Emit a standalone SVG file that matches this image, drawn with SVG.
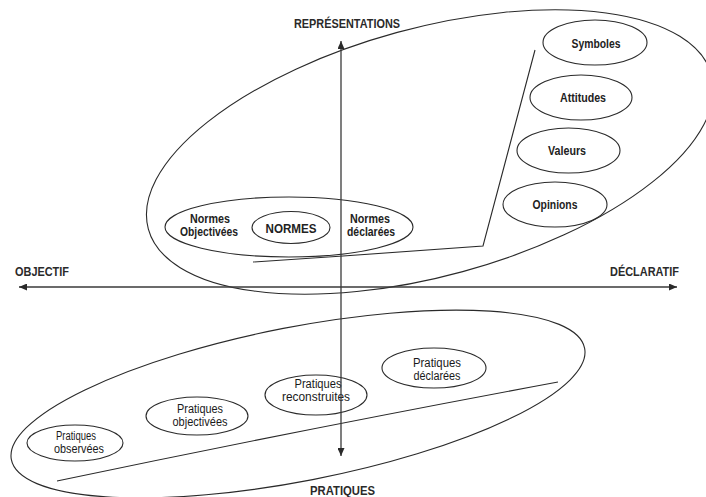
<svg xmlns="http://www.w3.org/2000/svg" width="706" height="497" viewBox="0 0 706 497">
<defs>
<style>
.shape{fill:none;stroke:#2a2a2a;stroke-width:1.1}
.axis{fill:none;stroke:#3a3a3a;stroke-width:1.3}
.lbl{font-family:"Liberation Sans",Arial,sans-serif;font-size:13.5px;font-weight:bold;fill:#2a2a2a}
.t{font-family:"Liberation Sans",Arial,sans-serif;font-size:12.5px;fill:#1a1a1a;text-anchor:middle}
.tb{font-family:"Liberation Sans",Arial,sans-serif;font-size:12.5px;font-weight:bold;fill:#222;text-anchor:middle}
</style>
<marker id="arr" markerWidth="9" markerHeight="7" refX="8" refY="3.5" orient="auto-start-reverse" markerUnits="userSpaceOnUse">
<path d="M0,0 L8,3.5 L0,7 z" fill="#2a2a2a"/>
</marker>
</defs>
<rect width="706" height="497" fill="#ffffff"/>

<g id="representations-region">
<ellipse class="shape" cx="430" cy="152" rx="292" ry="124" transform="rotate(-15.3 430 152)"/>
<polyline class="shape" points="253,262 343,256 483,246 535,50"/>
</g>

<g id="pratiques-region">
<ellipse class="shape" cx="298" cy="404" rx="292" ry="77" transform="rotate(-11 298 404)"/>
<path class="shape" d="M57,481 Q300,430 558,382"/>
</g>

<g id="normes-region">
<ellipse class="shape" cx="289" cy="227" rx="124" ry="30"/>
</g>

<g id="normes-objectivees">
<text class="tb" x="210" y="223" textLength="40" lengthAdjust="spacingAndGlyphs">Normes</text>
<text class="tb" x="209" y="236" textLength="58" lengthAdjust="spacingAndGlyphs">Objectivées</text>
</g>

<g id="normes">
<ellipse class="shape" cx="291" cy="227.5" rx="39" ry="16"/>
<text class="tb" x="291" y="233" font-size="14.5" textLength="51" lengthAdjust="spacingAndGlyphs">NORMES</text>
</g>

<g id="normes-declarees">
<text class="tb" x="370" y="223" textLength="40" lengthAdjust="spacingAndGlyphs">Normes</text>
<text class="tb" x="371" y="236" textLength="48" lengthAdjust="spacingAndGlyphs">déclarées</text>
</g>

<g id="symboles">
<ellipse class="shape" cx="595" cy="42.5" rx="52" ry="22.5"/>
<text class="tb" x="596" y="47.5" textLength="49" lengthAdjust="spacingAndGlyphs">Symboles</text>
</g>
<g id="attitudes">
<ellipse class="shape" cx="581" cy="97.5" rx="51" ry="22.5"/>
<text class="tb" x="583" y="102" textLength="46" lengthAdjust="spacingAndGlyphs">Attitudes</text>
</g>
<g id="valeurs">
<ellipse class="shape" cx="568.5" cy="150.5" rx="51.5" ry="22.5"/>
<text class="tb" x="567" y="155" textLength="38" lengthAdjust="spacingAndGlyphs">Valeurs</text>
</g>
<g id="opinions">
<ellipse class="shape" cx="555" cy="204.5" rx="52" ry="22.5"/>
<text class="tb" x="555" y="209" textLength="45" lengthAdjust="spacingAndGlyphs">Opinions</text>
</g>

<g id="pratiques-observees">
<ellipse class="shape" cx="75" cy="443" rx="48" ry="18"/>
<text class="t" x="76" y="440" textLength="40" lengthAdjust="spacingAndGlyphs">Pratiques</text>
<text class="t" x="79" y="452.5" textLength="50" lengthAdjust="spacingAndGlyphs">observées</text>
</g>
<g id="pratiques-objectivees">
<ellipse class="shape" cx="197" cy="416" rx="51" ry="19"/>
<text class="t" x="200" y="413" textLength="46" lengthAdjust="spacingAndGlyphs">Pratiques</text>
<text class="t" x="200" y="426" textLength="55" lengthAdjust="spacingAndGlyphs">objectivées</text>
</g>
<g id="pratiques-reconstruites">
<ellipse class="shape" cx="316" cy="395" rx="51" ry="20"/>
<text class="t" x="318" y="388" textLength="47" lengthAdjust="spacingAndGlyphs">Pratiques</text>
<text class="t" x="316" y="401" textLength="68" lengthAdjust="spacingAndGlyphs">reconstruites</text>
</g>
<g id="pratiques-declarees">
<ellipse class="shape" cx="434" cy="368" rx="52" ry="20"/>
<text class="t" x="437" y="367" textLength="48" lengthAdjust="spacingAndGlyphs">Pratiques</text>
<text class="t" x="437" y="380" textLength="47" lengthAdjust="spacingAndGlyphs">déclarées</text>
</g>

<g id="connectors">
<line class="axis" x1="341" y1="456" x2="341" y2="41" marker-start="url(#arr)" marker-end="url(#arr)"/>
<line class="axis" x1="19" y1="287" x2="677" y2="287" marker-start="url(#arr)" marker-end="url(#arr)"/>
</g>

<g id="axis-labels">
<text class="lbl" x="294" y="28" textLength="106" lengthAdjust="spacingAndGlyphs">REPRÉSENTATIONS</text>
<text class="lbl" x="15" y="276" textLength="54" lengthAdjust="spacingAndGlyphs">OBJECTIF</text>
<text class="lbl" x="610" y="276" textLength="69" lengthAdjust="spacingAndGlyphs">DÉCLARATIF</text>
<text class="lbl" x="310" y="495" textLength="65" lengthAdjust="spacingAndGlyphs">PRATIQUES</text>
</g>
</svg>
